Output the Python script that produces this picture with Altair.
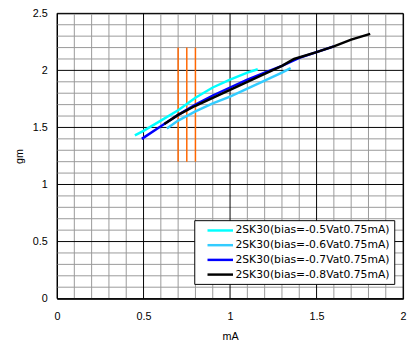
import altair as alt
import pandas as pd
import numpy as np

labels = [
    "2SK30(bias=-0.5Vat0.75mA)",
    "2SK30(bias=-0.6Vat0.75mA)",
    "2SK30(bias=-0.7Vat0.75mA)",
    "2SK30(bias=-0.8Vat0.75mA)",
]
colors = ["#00FFFF", "#33CCFF", "#0000FF", "#000000"]

s1_x = [0.45, 0.5, 0.6, 0.7, 0.8, 0.9, 1.0, 1.1, 1.16]
s1_y = [1.43, 1.47, 1.56, 1.65, 1.76, 1.85, 1.92, 1.98, 2.01]
s2_x = [0.635, 0.7, 0.8, 0.9, 1.0, 1.1, 1.2, 1.3, 1.35]
s2_y = [1.49, 1.56, 1.64, 1.71, 1.77, 1.84, 1.91, 1.98, 2.02]
s3_x = [0.49, 0.6, 0.7, 0.8, 0.9, 1.0, 1.1, 1.2, 1.3, 1.4, 1.6]
s3_y = [1.40, 1.51, 1.61, 1.70, 1.78, 1.85, 1.92, 1.98, 2.04, 2.11, 2.21]
s4_x = [0.62, 0.7, 0.8, 0.9, 1.0, 1.1, 1.2, 1.3, 1.37, 1.5, 1.6, 1.7, 1.81]
s4_y = [1.53, 1.61, 1.69, 1.76, 1.83, 1.90, 1.97, 2.04, 2.10, 2.16, 2.21, 2.27, 2.32]

marker_x = [0.7, 0.75, 0.8]
marker_y0 = 1.2
marker_y1 = 2.2

x_major = [0, 0.5, 1, 1.5, 2]
y_major = [0, 0.5, 1, 1.5, 2, 2.5]
x_minor = [round(v, 1) for v in np.arange(0.1, 2.0, 0.1) if round(v * 10) % 5 != 0]
y_minor = [round(v, 1) for v in np.arange(0.1, 2.5, 0.1) if round(v * 10) % 5 != 0]

rows = []
for lab, xs, ys in zip(labels, [s1_x, s2_x, s3_x, s4_x], [s1_y, s2_y, s3_y, s4_y]):
    for i, (a, b) in enumerate(zip(xs, ys)):
        rows.append({"series": lab, "mA": a, "gm": b, "order": i})
df = pd.DataFrame(rows)
mk = pd.DataFrame({"x": marker_x, "y0": [marker_y0] * 3, "y1": [marker_y1] * 3})

font = "Liberation Sans"
lfont = "DejaVu Sans"

xscale = alt.Scale(domain=[0, 2], nice=False, zero=False)
yscale = alt.Scale(domain=[0, 2.5], nice=False, zero=False)

xaxis = alt.Axis(values=x_major, grid=False, ticks=False, labelPadding=12, labelOverlap=False,
                 format="~g", labelFontSize=11, labelFont=font, labelColor="black",
                 title="mA", titleFontSize=11, titleFont=font, titleFontWeight="normal",
                 titlePadding=10, domainColor="black", labelFlush=False)
yaxis = alt.Axis(values=y_major, grid=False, ticks=False, labelPadding=10, labelOverlap=False,
                 format="~g", labelFontSize=11, labelFont=font, labelColor="black",
                 title="gm", titleFontSize=11, titleFont=font, titleFontWeight="normal",
                 titlePadding=8, domainColor="black", labelFlush=False)

X = lambda f: alt.X(f, scale=xscale, axis=xaxis)
Y = lambda f: alt.Y(f, scale=yscale, axis=yaxis)

vminor = alt.Chart(pd.DataFrame({"v": x_minor})).mark_rule(color="#999999", strokeWidth=1).encode(x=X("v:Q"))
hminor = alt.Chart(pd.DataFrame({"v": y_minor})).mark_rule(color="#999999", strokeWidth=1).encode(y=Y("v:Q"))
vmajor = alt.Chart(pd.DataFrame({"v": x_major})).mark_rule(color="#000000", strokeWidth=1).encode(x=X("v:Q"))
hmajor = alt.Chart(pd.DataFrame({"v": y_major})).mark_rule(color="#000000", strokeWidth=1).encode(y=Y("v:Q"))

lines = alt.Chart(df).mark_line(strokeWidth=2.5).encode(
    x=X("mA:Q"),
    y=Y("gm:Q"),
    color=alt.Color("series:N", scale=alt.Scale(domain=labels, range=colors),
                    legend=alt.Legend(title=None, orient="none", legendX=140, legendY=211,
                                      fillColor="white", strokeColor="black", padding=4,
                                      labelFont=lfont, labelFontSize=11, labelColor="black",
                                      symbolType="M0.6,0H5.8", symbolSize=100, symbolStrokeWidth=2.5,
                                      rowPadding=3, labelOffset=25, cornerRadius=0)),
    order="order:Q",
)

rules = alt.Chart(mk).mark_rule(color="#FF6600", strokeWidth=1.5).encode(
    x=X("x:Q"),
    y=Y("y0:Q"),
    y2="y1:Q",
)

chart = alt.layer(vminor, hminor, vmajor, hmajor, rules, lines).properties(
    width=353, height=291,
    autosize=alt.AutoSizeParams(type="none"),
    padding={"left": 50, "top": 2, "right": 4, "bottom": 50},
    background="white",
).configure_view(stroke="black", strokeWidth=1)

chart.save("out.html", embed_options={"renderer": "svg", "actions": False})
